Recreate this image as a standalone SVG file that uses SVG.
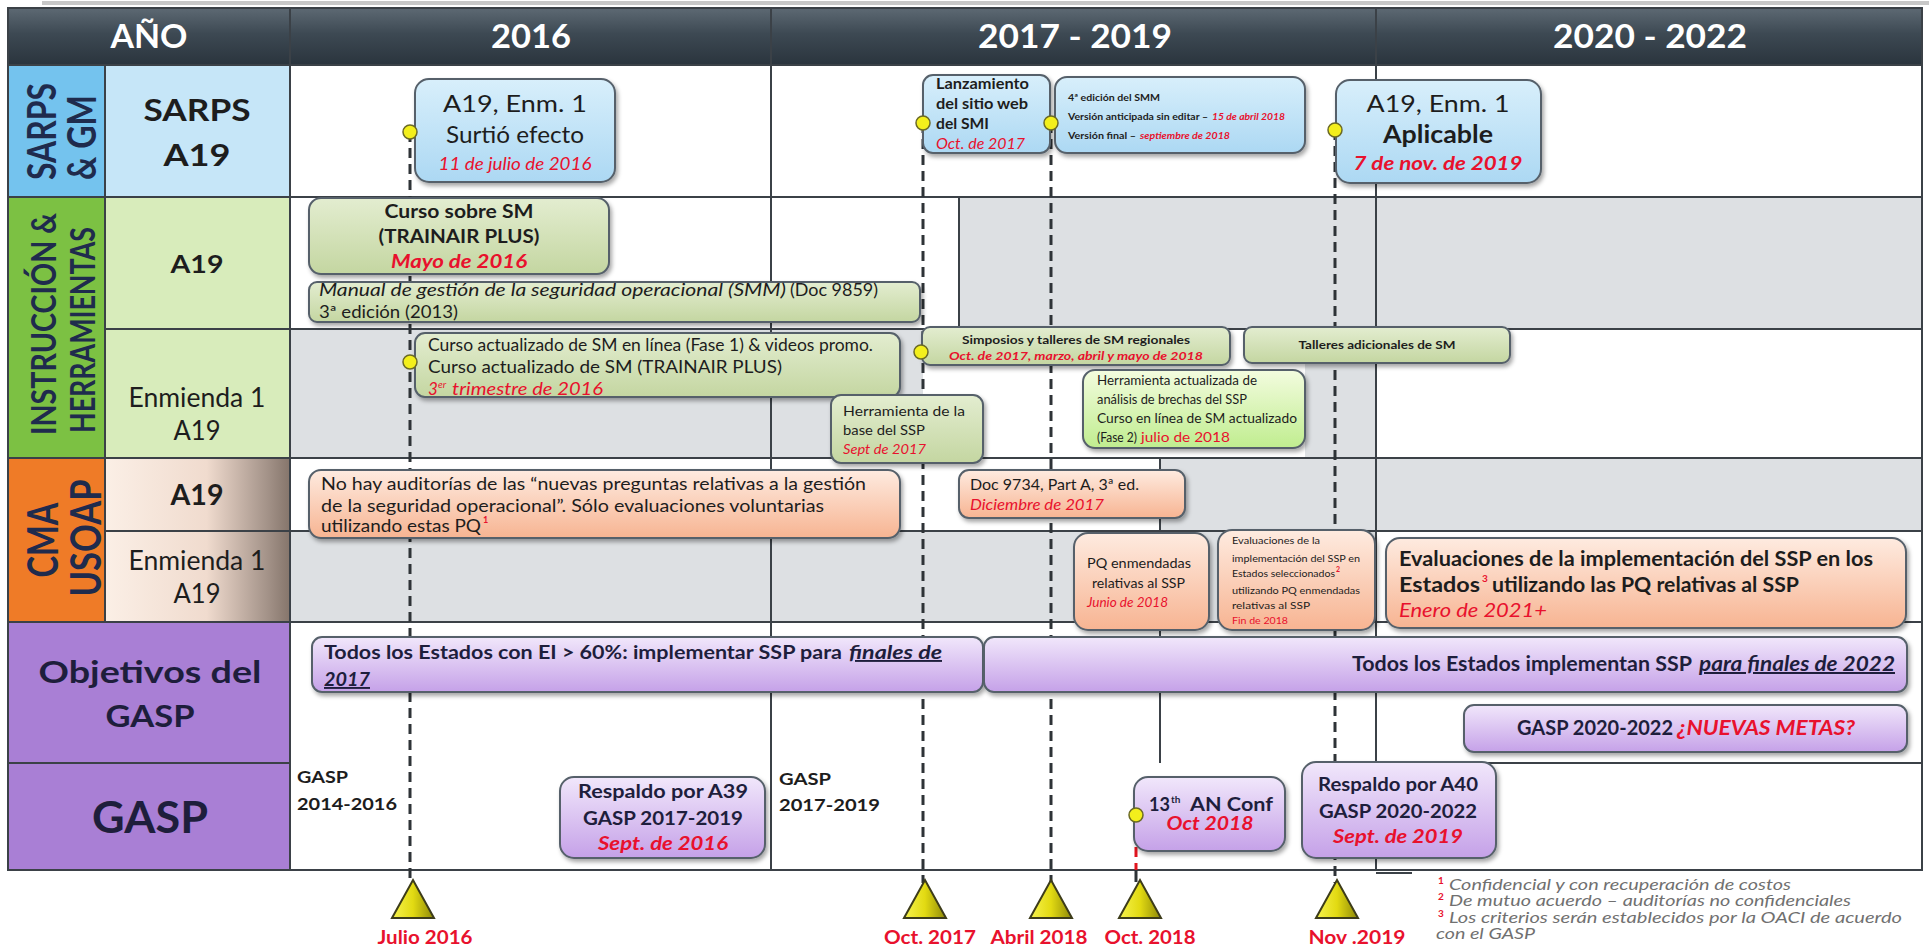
<svg xmlns="http://www.w3.org/2000/svg" width="1929" height="947" viewBox="0 0 1929 947">
<defs>
<linearGradient id="hdr" x1="0" y1="0" x2="0" y2="1"><stop offset="0" stop-color="#5d6973"/><stop offset="0.45" stop-color="#3d4953"/><stop offset="1" stop-color="#2a343d"/></linearGradient>
<linearGradient id="gBlue" x1="0" y1="0" x2="0" y2="1"><stop offset="0" stop-color="#d8effb"/><stop offset="1" stop-color="#acd8f3"/></linearGradient>
<linearGradient id="gGreen" x1="0" y1="0" x2="0" y2="1"><stop offset="0" stop-color="#e3edd0"/><stop offset="1" stop-color="#c4d6a1"/></linearGradient>
<linearGradient id="gLime" x1="0" y1="0" x2="0" y2="1"><stop offset="0" stop-color="#f3fcdf"/><stop offset="1" stop-color="#c0ed8f"/></linearGradient>
<linearGradient id="gSalmon" x1="0" y1="0" x2="0" y2="1"><stop offset="0" stop-color="#feebe0"/><stop offset="1" stop-color="#f7b492"/></linearGradient>
<linearGradient id="gPurple" x1="0" y1="0" x2="0" y2="1"><stop offset="0" stop-color="#f1e7fb"/><stop offset="1" stop-color="#c5a1e8"/></linearGradient>
<linearGradient id="gCma" x1="0" y1="0" x2="1" y2="0"><stop offset="0" stop-color="#fbefe6"/><stop offset="0.55" stop-color="#f0dbce"/><stop offset="0.88" stop-color="#a39288"/><stop offset="1" stop-color="#85756b"/></linearGradient>
<linearGradient id="gTri" x1="0" y1="0" x2="1" y2="0"><stop offset="0" stop-color="#f7f34e"/><stop offset="0.5" stop-color="#e2da12"/><stop offset="1" stop-color="#8e8908"/></linearGradient>
<filter id="sh" x="-10%" y="-10%" width="125%" height="140%"><feDropShadow dx="2" dy="3" stdDeviation="2" flood-color="#000" flood-opacity="0.35"/></filter>
</defs>
<style>
text{font-family:Lato,'Liberation Sans',Arial,sans-serif;fill:#1d1d1d}
.b{font-weight:bold}
.i{font-style:italic}
.red{fill:#e8112d}
.wh{fill:#ffffff}
.nv{fill:#1f2b4d}
.pk{fill:#1e1e3c}
.m{text-anchor:middle}
.u{text-decoration:underline}
.box{stroke:#56616b;stroke-width:2;filter:url(#sh)}
.grid{stroke:#3b4147;stroke-width:2;fill:none}
.dash{stroke:#2e3337;stroke-width:3;stroke-dasharray:10 6;fill:none}
.dashr{stroke:#e0141e;stroke-width:3;stroke-dasharray:10 6;fill:none}
.dot{fill:#f3ef1c;stroke:#6b6a25;stroke-width:1.5}
.tri{fill:url(#gTri);stroke:#3d3c1a;stroke-width:2}
.fn{font-style:italic;fill:#707070}
.sup{fill:#e8112d;font-weight:bold}
</style>
<rect x="0" y="0" width="1929" height="947" fill="#ffffff"/>

<g id="grid">
<rect x="42" y="1" width="1887" height="4" fill="#c8c8c8"/>
<rect x="8" y="8" width="1914" height="57" fill="url(#hdr)"/>
<rect x="8" y="65" width="97" height="132" fill="#74c3ee"/>
<rect x="105" y="65" width="185" height="132" fill="#c6e6f8"/>
<rect x="8" y="197" width="97" height="261" fill="#7cc143"/>
<rect x="105" y="197" width="185" height="261" fill="#d8ecbb"/>
<rect x="8" y="458" width="97" height="164" fill="#ef7b27"/>
<rect x="105" y="458" width="185" height="164" fill="url(#gCma)"/>
<rect x="8" y="622" width="282" height="248" fill="#a97fd5"/>
<rect x="959" y="197" width="963" height="132" fill="#dde0e3"/>
<rect x="290" y="329" width="633" height="129" fill="#dde0e3"/>
<rect x="1305" y="329" width="71" height="129" fill="#dde0e3"/>
<rect x="1160" y="458" width="762" height="73" fill="#dde0e3"/>
<rect x="290" y="531" width="1086" height="91" fill="#dde0e3"/>
<path class="grid" d="M8 65H1922 M8 197H1922 M105 329H1922 M8 458H1922 M105 531H1922 M8 622H1922 M8 763H290 M1376 763H1922 M105 65V622 M290 8V870 M771 8V870 M1376 8V870 M959 197V329 M1160 458V763 M1376 873H1412"/>
<rect class="grid" x="8" y="8" width="1914" height="862"/>
</g>

<g id="header">
<text class="b wh m" x="149" y="48" font-size="32" textLength="77" lengthAdjust="spacingAndGlyphs">AÑO</text>
<text class="b wh m" x="531" y="48" font-size="32" textLength="80" lengthAdjust="spacingAndGlyphs">2016</text>
<text class="b wh m" x="1075" y="48" font-size="32" textLength="194" lengthAdjust="spacingAndGlyphs">2017 - 2019</text>
<text class="b wh m" x="1650" y="48" font-size="32" textLength="194" lengthAdjust="spacingAndGlyphs">2020 - 2022</text>
</g>

<g id="row-labels">
<text class="b nv" transform="translate(56,180) rotate(-90)" font-size="40" textLength="97" lengthAdjust="spacingAndGlyphs">SARPS</text>
<text class="b nv" transform="translate(96,180) rotate(-90)" font-size="40" textLength="85" lengthAdjust="spacingAndGlyphs">&amp; GM</text>
<text class="b nv m" transform="translate(56,324) rotate(-90)" font-size="35" textLength="222" lengthAdjust="spacingAndGlyphs">INSTRUCCIÓN &amp;</text>
<text class="b nv m" transform="translate(95,330) rotate(-90)" font-size="35" textLength="206" lengthAdjust="spacingAndGlyphs">HERRAMIENTAS</text>
<text class="b nv m" transform="translate(58,540) rotate(-90)" font-size="42" textLength="75" lengthAdjust="spacingAndGlyphs">CMA</text>
<text class="b nv m" transform="translate(101,538) rotate(-90)" font-size="42" textLength="117" lengthAdjust="spacingAndGlyphs">USOAP</text>
<text class="b m" x="197" y="121" font-size="30" textLength="107" lengthAdjust="spacingAndGlyphs">SARPS</text>
<text class="b m" x="197" y="166" font-size="30" textLength="67" lengthAdjust="spacingAndGlyphs">A19</text>
<text class="b m" x="197" y="273" font-size="25" textLength="53" lengthAdjust="spacingAndGlyphs">A19</text>
<text class="m" x="197" y="407" font-size="26" textLength="137" lengthAdjust="spacingAndGlyphs">Enmienda 1</text>
<text class="m" x="197" y="440" font-size="26" textLength="47" lengthAdjust="spacingAndGlyphs">A19</text>
<text class="b m" x="197" y="505" font-size="28" textLength="53" lengthAdjust="spacingAndGlyphs">A19</text>
<text class="m" x="197" y="570" font-size="26" textLength="137" lengthAdjust="spacingAndGlyphs">Enmienda 1</text>
<text class="m" x="197" y="603" font-size="26" textLength="47" lengthAdjust="spacingAndGlyphs">A19</text>
<text class="b m pk" x="150" y="683" font-size="30" textLength="223" lengthAdjust="spacingAndGlyphs">Objetivos del</text>
<text class="b m pk" x="150" y="727" font-size="30" textLength="89" lengthAdjust="spacingAndGlyphs">GASP</text>
<text class="b m pk" x="150" y="833" font-size="43" textLength="116" lengthAdjust="spacingAndGlyphs">GASP</text>
</g>

<g id="connectors">
<path class="dash" d="M410 132V883 M923 123V883 M1051 123V883 M1335 130V883"/>
<path class="dashr" d="M1136 815V870"/>
<path d="M1136 870V882" stroke="#2e3337" stroke-width="3"/>
</g>

<g id="n-a19-surtio">
<rect class="box" x="415" y="79" width="200" height="103" rx="14" fill="url(#gBlue)"/>
<text class="m" x="515" y="112" font-size="24" textLength="144" lengthAdjust="spacingAndGlyphs">A19, Enm. 1</text>
<text class="m" x="515" y="143" font-size="24" textLength="138" lengthAdjust="spacingAndGlyphs">Surtió efecto</text>
<text class="m i red" x="515" y="170" font-size="18" textLength="153" lengthAdjust="spacingAndGlyphs">11 de julio de 2016</text>
</g>

<g id="n-lanzamiento">
<rect class="box" x="923" y="75" width="127" height="78" rx="10" fill="url(#gBlue)"/>
<text class="b" x="936" y="89" font-size="15" textLength="93" lengthAdjust="spacingAndGlyphs">Lanzamiento</text>
<text class="b" x="936" y="109" font-size="15" textLength="92" lengthAdjust="spacingAndGlyphs">del sitio web</text>
<text class="b" x="936" y="129" font-size="15" textLength="53" lengthAdjust="spacingAndGlyphs">del SMI</text>
<text class="i red" x="936" y="149" font-size="15" textLength="89" lengthAdjust="spacingAndGlyphs">Oct. de 2017</text>
</g>

<g id="n-smm4">
<rect class="box" x="1055" y="77" width="250" height="76" rx="12" fill="url(#gBlue)"/>
<text class="b" x="1068" y="101" font-size="10" textLength="92" lengthAdjust="spacingAndGlyphs">4ª edición del SMM</text>
<text class="b" x="1068" y="120" font-size="10" textLength="140" lengthAdjust="spacingAndGlyphs">Versión anticipada sin editar –</text>
<text class="b i red" x="1212" y="120" font-size="10" textLength="73" lengthAdjust="spacingAndGlyphs">15 de abril 2018</text>
<text class="b" x="1068" y="139" font-size="10" textLength="68" lengthAdjust="spacingAndGlyphs">Versión final –</text>
<text class="b i red" x="1140" y="139" font-size="10" textLength="90" lengthAdjust="spacingAndGlyphs">septiembre de 2018</text>
</g>

<g id="n-a19-aplicable">
<rect class="box" x="1336" y="80" width="205" height="103" rx="14" fill="url(#gBlue)"/>
<text class="m" x="1438" y="112" font-size="24" textLength="143" lengthAdjust="spacingAndGlyphs">A19, Enm. 1</text>
<text class="m b" x="1438" y="143" font-size="24" textLength="110" lengthAdjust="spacingAndGlyphs">Aplicable</text>
<text class="m b i red" x="1438" y="170" font-size="19" textLength="169" lengthAdjust="spacingAndGlyphs">7 de nov. de 2019</text>
</g>

<g id="n-curso-sm">
<rect class="box" x="309" y="198" width="300" height="76" rx="12" fill="url(#gGreen)"/>
<text class="m b" x="459" y="218" font-size="19" textLength="149" lengthAdjust="spacingAndGlyphs">Curso sobre SM</text>
<text class="m b" x="459" y="243" font-size="19" textLength="161" lengthAdjust="spacingAndGlyphs">(TRAINAIR PLUS)</text>
<text class="m b i red" x="459" y="268" font-size="19" textLength="136" lengthAdjust="spacingAndGlyphs">Mayo de 2016</text>
</g>

<g id="n-manual">
<rect class="box" x="309" y="282" width="611" height="40" rx="8" fill="url(#gGreen)"/>
<text class="i" x="319" y="296" font-size="17" textLength="467" lengthAdjust="spacingAndGlyphs">Manual de gestión de la seguridad operacional (SMM)</text>
<text x="790" y="296" font-size="17" textLength="88" lengthAdjust="spacingAndGlyphs">(Doc 9859)</text>
<text x="319" y="318" font-size="17" textLength="139" lengthAdjust="spacingAndGlyphs">3ª edición (2013)</text>
</g>

<g id="n-curso-act">
<rect class="box" x="415" y="333" width="485" height="64" rx="10" fill="url(#gGreen)"/>
<text x="428" y="351" font-size="17" textLength="445" lengthAdjust="spacingAndGlyphs">Curso actualizado de SM en línea (Fase 1) &amp; videos promo.</text>
<text x="428" y="373" font-size="17" textLength="354" lengthAdjust="spacingAndGlyphs">Curso actualizado de SM (TRAINAIR PLUS)</text>
<text class="i red" x="428" y="395" font-size="17">3</text>
<text class="i red" x="438" y="388" font-size="10">er</text>
<text class="i red" x="452" y="395" font-size="17" textLength="151" lengthAdjust="spacingAndGlyphs">trimestre de 2016</text>
</g>

<g id="n-simposios">
<rect class="box" x="922" y="327" width="308" height="38" rx="8" fill="url(#gGreen)"/>
<text class="m b" x="1076" y="344" font-size="12" textLength="228" lengthAdjust="spacingAndGlyphs">Simposios y talleres de SM regionales</text>
<text class="m b i red" x="1076" y="360" font-size="12" textLength="254" lengthAdjust="spacingAndGlyphs">Oct. de 2017, marzo, abril y mayo de 2018</text>
</g>

<g id="n-talleres">
<rect class="box" x="1244" y="327" width="266" height="36" rx="8" fill="url(#gGreen)"/>
<text class="m b" x="1377" y="349" font-size="12" textLength="157" lengthAdjust="spacingAndGlyphs">Talleres adicionales de SM</text>
</g>

<g id="n-herr-base">
<rect class="box" x="831" y="395" width="152" height="68" rx="10" fill="url(#gGreen)"/>
<text x="843" y="416" font-size="14" textLength="122" lengthAdjust="spacingAndGlyphs">Herramienta de la</text>
<text x="843" y="435" font-size="14" textLength="82" lengthAdjust="spacingAndGlyphs">base del SSP</text>
<text class="i red" x="843" y="454" font-size="14" textLength="83" lengthAdjust="spacingAndGlyphs">Sept de 2017</text>
</g>

<g id="n-herr-act">
<rect class="box" x="1083" y="370" width="222" height="78" rx="12" fill="url(#gLime)"/>
<text x="1097" y="385" font-size="13" textLength="160" lengthAdjust="spacingAndGlyphs">Herramienta actualizada de</text>
<text x="1097" y="404" font-size="13" textLength="150" lengthAdjust="spacingAndGlyphs">análisis de brechas del SSP</text>
<text x="1097" y="423" font-size="13" textLength="200" lengthAdjust="spacingAndGlyphs">Curso en línea de SM actualizado</text>
<text x="1097" y="442" font-size="13" textLength="40" lengthAdjust="spacingAndGlyphs">(Fase 2)</text>
<text class="red" x="1141" y="442" font-size="13" textLength="89" lengthAdjust="spacingAndGlyphs">julio de 2018</text>
</g>

<g id="n-no-hay">
<rect class="box" x="309" y="470" width="591" height="68" rx="12" fill="url(#gSalmon)"/>
<text x="321" y="490" font-size="18" textLength="545" lengthAdjust="spacingAndGlyphs">No hay auditorías de las “nuevas preguntas relativas a la gestión</text>
<text x="321" y="512" font-size="18" textLength="503" lengthAdjust="spacingAndGlyphs">de la seguridad operacional”. Sólo evaluaciones voluntarias</text>
<text x="321" y="532" font-size="18" textLength="160" lengthAdjust="spacingAndGlyphs">utilizando estas PQ</text>
<text class="sup" x="483" y="523" font-size="9">1</text>
</g>

<g id="n-doc9734">
<rect class="box" x="959" y="470" width="226" height="48" rx="10" fill="url(#gSalmon)"/>
<text x="970" y="490" font-size="15" textLength="169" lengthAdjust="spacingAndGlyphs">Doc 9734, Part A, 3ª ed.</text>
<text class="i red" x="970" y="510" font-size="15" textLength="134" lengthAdjust="spacingAndGlyphs">Diciembre de 2017</text>
</g>

<g id="n-pq-enm">
<rect class="box" x="1074" y="533" width="135" height="97" rx="14" fill="url(#gSalmon)"/>
<text x="1087" y="568" font-size="14" textLength="104" lengthAdjust="spacingAndGlyphs">PQ enmendadas</text>
<text x="1092" y="588" font-size="14" textLength="93" lengthAdjust="spacingAndGlyphs">relativas al SSP</text>
<text class="i red" x="1087" y="607" font-size="14" textLength="81" lengthAdjust="spacingAndGlyphs">Junio de 2018</text>
</g>

<g id="n-eval-small">
<rect class="box" x="1218" y="530" width="157" height="100" rx="14" fill="url(#gSalmon)"/>
<text x="1232" y="544" font-size="10" textLength="88" lengthAdjust="spacingAndGlyphs">Evaluaciones de la</text>
<text x="1232" y="562" font-size="10" textLength="128" lengthAdjust="spacingAndGlyphs">implementación del SSP en</text>
<text x="1232" y="577" font-size="10" textLength="103" lengthAdjust="spacingAndGlyphs">Estados seleccionados</text>
<text class="sup" x="1336" y="572" font-size="7">2</text>
<text x="1232" y="594" font-size="10" textLength="128" lengthAdjust="spacingAndGlyphs">utilizando PQ enmendadas</text>
<text x="1232" y="609" font-size="10" textLength="78" lengthAdjust="spacingAndGlyphs">relativas al SSP</text>
<text class="red" x="1232" y="624" font-size="10" textLength="56" lengthAdjust="spacingAndGlyphs">Fin de 2018</text>
</g>

<g id="n-eval-big">
<rect class="box" x="1386" y="538" width="520" height="90" rx="14" fill="url(#gSalmon)"/>
<text class="b" x="1399" y="566" font-size="20" textLength="474" lengthAdjust="spacingAndGlyphs">Evaluaciones de la implementación del SSP en los</text>
<text class="b" x="1399" y="592" font-size="20" textLength="81" lengthAdjust="spacingAndGlyphs">Estados</text>
<text class="sup" x="1482" y="582" font-size="10">3</text>
<text class="b" x="1492" y="592" font-size="20" textLength="307" lengthAdjust="spacingAndGlyphs">utilizando las PQ relativas al SSP</text>
<text class="i red" x="1399" y="617" font-size="20" textLength="148" lengthAdjust="spacingAndGlyphs">Enero de 2021+</text>
</g>

<g id="n-todos-2017">
<rect class="box" x="312" y="637" width="671" height="55" rx="10" fill="url(#gPurple)"/>
<text class="b pk" x="324" y="659" font-size="19" textLength="518" lengthAdjust="spacingAndGlyphs">Todos los Estados con EI &gt; 60%: implementar SSP para</text>
<text class="b i u pk" x="849" y="659" font-size="19" textLength="93" lengthAdjust="spacingAndGlyphs">finales de</text>
<text class="b i u pk" x="324" y="686" font-size="19" textLength="46" lengthAdjust="spacingAndGlyphs">2017</text>
</g>

<g id="n-todos-2022">
<rect class="box" x="984" y="637" width="923" height="55" rx="10" fill="url(#gPurple)"/>
<text class="b pk" x="1352" y="671" font-size="20" textLength="340" lengthAdjust="spacingAndGlyphs">Todos los Estados implementan SSP</text>
<text class="b i u pk" x="1699" y="671" font-size="20" textLength="196" lengthAdjust="spacingAndGlyphs">para finales de 2022</text>
</g>

<g id="n-nuevas-metas">
<rect class="box" x="1464" y="705" width="443" height="47" rx="10" fill="url(#gPurple)"/>
<text class="b pk" x="1517" y="735" font-size="20" textLength="156" lengthAdjust="spacingAndGlyphs">GASP 2020-2022</text>
<text class="b i red" x="1677" y="735" font-size="20" textLength="178" lengthAdjust="spacingAndGlyphs">¿NUEVAS METAS?</text>
</g>

<g id="n-gasp-2014">
<text class="b" x="297" y="783" font-size="17" textLength="51" lengthAdjust="spacingAndGlyphs">GASP</text>
<text class="b" x="297" y="810" font-size="17" textLength="100" lengthAdjust="spacingAndGlyphs">2014-2016</text>
</g>

<g id="n-gasp-2017">
<text class="b" x="779" y="785" font-size="17" textLength="52" lengthAdjust="spacingAndGlyphs">GASP</text>
<text class="b" x="779" y="811" font-size="17" textLength="101" lengthAdjust="spacingAndGlyphs">2017-2019</text>
</g>

<g id="n-respaldo-a39">
<rect class="box" x="560" y="777" width="205" height="81" rx="14" fill="url(#gPurple)"/>
<text class="m b pk" x="663" y="798" font-size="19" textLength="170" lengthAdjust="spacingAndGlyphs">Respaldo por A39</text>
<text class="m b pk" x="663" y="825" font-size="19" textLength="160" lengthAdjust="spacingAndGlyphs">GASP 2017-2019</text>
<text class="m b i red" x="663" y="850" font-size="19" textLength="130" lengthAdjust="spacingAndGlyphs">Sept. de 2016</text>
</g>

<g id="n-an-conf">
<rect class="box" x="1134" y="777" width="151" height="74" rx="14" fill="url(#gPurple)"/>
<text class="b pk" x="1149" y="811" font-size="18" textLength="21" lengthAdjust="spacingAndGlyphs">13</text>
<text class="b pk" x="1171" y="803" font-size="10">th</text>
<text class="b pk" x="1190" y="811" font-size="18" textLength="83" lengthAdjust="spacingAndGlyphs">AN Conf</text>
<text class="m b i red" x="1210" y="830" font-size="18" textLength="87" lengthAdjust="spacingAndGlyphs">Oct 2018</text>
</g>

<g id="n-respaldo-a40">
<rect class="box" x="1302" y="762" width="194" height="96" rx="14" fill="url(#gPurple)"/>
<text class="m b pk" x="1398" y="791" font-size="19" textLength="160" lengthAdjust="spacingAndGlyphs">Respaldo por A40</text>
<text class="m b pk" x="1398" y="818" font-size="19" textLength="158" lengthAdjust="spacingAndGlyphs">GASP 2020-2022</text>
<text class="m b i red" x="1398" y="843" font-size="19" textLength="130" lengthAdjust="spacingAndGlyphs">Sept. de 2019</text>
</g>

<g id="event-dots">
<circle class="dot" cx="410" cy="132" r="7"/>
<circle class="dot" cx="923" cy="123" r="7"/>
<circle class="dot" cx="1051" cy="123" r="7"/>
<circle class="dot" cx="1335" cy="130" r="7"/>
<circle class="dot" cx="410" cy="362" r="7"/>
<circle class="dot" cx="921" cy="352" r="7"/>
<circle class="dot" cx="1136" cy="815" r="7"/>
</g>

<g id="timeline">
<polygon class="tri" points="392,918 413,880 434,918"/>
<polygon class="tri" points="904,918 925,880 946,918"/>
<polygon class="tri" points="1030,918 1051,880 1072,918"/>
<polygon class="tri" points="1119,918 1140,880 1161,918"/>
<polygon class="tri" points="1316,918 1337,880 1358,918"/>
<text class="m b red" x="425" y="944" font-size="18" textLength="95" lengthAdjust="spacingAndGlyphs">Julio 2016</text>
<text class="m b red" x="930" y="944" font-size="18" textLength="92" lengthAdjust="spacingAndGlyphs">Oct. 2017</text>
<text class="m b red" x="1039" y="944" font-size="18" textLength="97" lengthAdjust="spacingAndGlyphs">Abril 2018</text>
<text class="m b red" x="1150" y="944" font-size="18" textLength="91" lengthAdjust="spacingAndGlyphs">Oct. 2018</text>
<text class="m b red" x="1357" y="944" font-size="18" textLength="97" lengthAdjust="spacingAndGlyphs">Nov .2019</text>
</g>

<g id="footnotes">
<text class="sup" x="1438" y="884" font-size="10">1</text>
<text class="fn" x="1449" y="890" font-size="16" textLength="342" lengthAdjust="spacingAndGlyphs">Confidencial y con recuperación de costos</text>
<text class="sup" x="1438" y="900" font-size="10">2</text>
<text class="fn" x="1449" y="906" font-size="16" textLength="402" lengthAdjust="spacingAndGlyphs">De mutuo acuerdo – auditorías no confidenciales</text>
<text class="sup" x="1438" y="917" font-size="10">3</text>
<text class="fn" x="1449" y="923" font-size="16" textLength="453" lengthAdjust="spacingAndGlyphs">Los criterios serán establecidos por la OACI de acuerdo</text>
<text class="fn" x="1436" y="939" font-size="16" textLength="99" lengthAdjust="spacingAndGlyphs">con el GASP</text>
</g>
</svg>
